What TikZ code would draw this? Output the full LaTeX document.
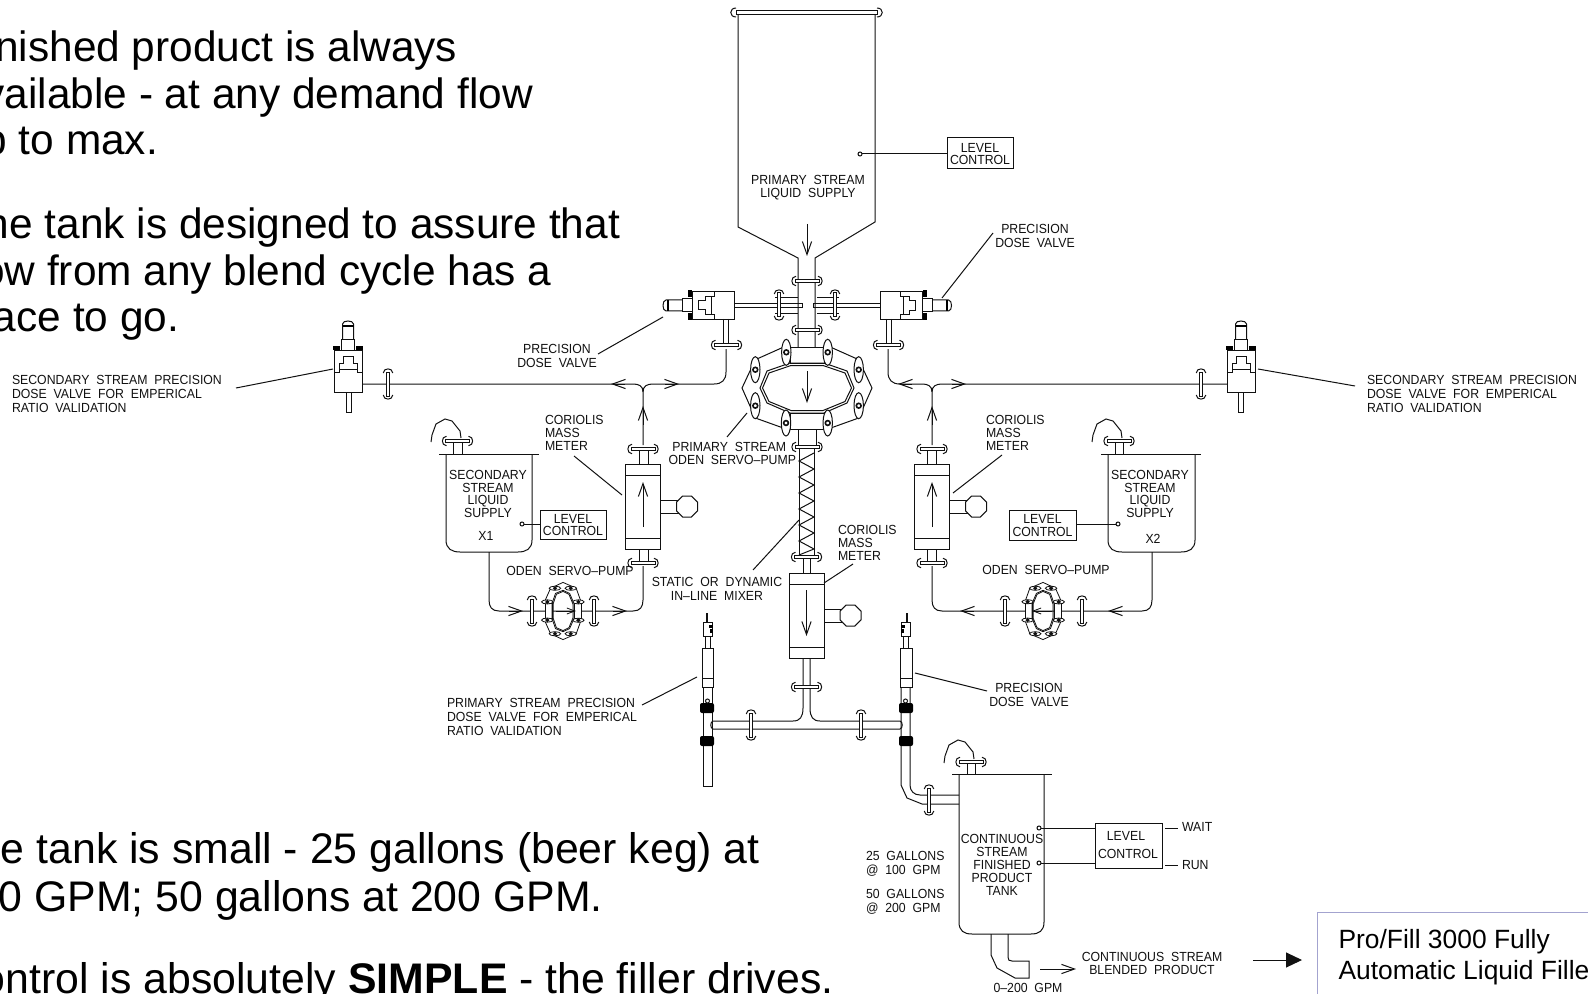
\documentclass[tikz,border=0pt]{standalone}
\usepackage{fontspec}
\setmainfont{Liberation Sans}
\newfontfamily\cad[FakeStretch=0.93]{Liberation Sans}
\usetikzlibrary{arrows.meta}
\definecolor{boxblue}{HTML}{A3A3CF}
\definecolor{ink}{HTML}{111111}
\newcommand\ldr[3]{\coordinate (#1a) at (#2); \coordinate (#1b) at (#3); \draw (#1a) -- (#1b);}
\newcommand\probe[3]{\coordinate (#1) at (#2); \draw (#1) -- (#3); \draw[fill=white] (#1) circle[radius=2];}
\tikzset{
 cadtxt/.style={inner sep=0pt,outer sep=0pt,text=ink,align=center,font=\cad\fontsize{6.6}{6.45}\selectfont},
 cadleft/.style={cadtxt,align=left},
 cadwide/.style={font=\cad\fontsize{6.6}{7.05}\selectfont},
 bigtxt/.style={inner sep=0pt,outer sep=0pt,anchor=base west,font=\fontsize{21.4}{25}\selectfont,text=black},
 bigtop/.style={bigtxt,font=\fontsize{21.2}{25}\selectfont},
 oarrow/.style={-{Straight Barb[length=6.5pt,width=4.6pt,line width=.5pt]}},
 pics/flange/.style={code={
   \draw[fill=white] (-12,-1.8) rectangle (12,1.8);
   \draw (-11,-4.8) .. controls (-16.5,-4.5) and (-16.5,4.5) .. (-11,4.8);
   \draw (11,-4.8) .. controls (16.5,-4.5) and (16.5,4.5) .. (11,4.8);
 }},
 pics/hook/.style={code={
   \draw (3,-3) -- (2,-10) -- (-6,-20) -- (-13,-22) -- (-22,-17) -- (-26,-6) -- (-27,1);
 }},
 pics/valve/.style={code={
   \draw[fill=white] (-14,-21) rectangle (14,21);
   \draw (-14,1.5) -- (-9,1.5) -- (-9,-7.5) -- (-4.5,-7.5) -- (-4.5,-14.3) -- (5,-14.3) -- (5,-7.5) -- (9,-7.5) -- (9,1.5) -- (14,1.5);
   \draw (-9,-1.5) -- (9,-1.5);
   \fill[black] (-15,-25.5) rectangle (-8,-21.5);
   \fill[black] (8,-25.5) rectangle (15,-21.5);
   \draw (-6.5,-21) rectangle (6.5,-31);
   \draw (-5.5,-31) -- (-5.5,-47) .. controls (-5.5,-51) and (5.5,-51) .. (5.5,-47) -- (5.5,-31);
   \fill[black] (-5.5,-46) rectangle (5.5,-44);
 }},
 pics/minivalve/.style={code={
   \draw (0,-35) -- (0,-26);
   \draw (-1,-35) -- (-1,-26);
   \draw[fill=white] (-4,-26) rectangle (5,-12);
   \fill[black] (1,-23) rectangle (5,-20);
   \fill[black] (2,-19) rectangle (5,-15);
   \draw (-2.5,-12) rectangle (2.5,0);
 }},
 pics/meter/.style={code={
   \draw[fill=white] (-17.5,-42.5) rectangle (17.5,42.5);
   \draw (-17.5,-31.5) -- (17.5,-31.5) (-17.5,31.5) -- (17.5,31.5);
   \draw (17.5,-6.5) -- (36,-6.5) (17.5,6.5) -- (36,6.5);
   \draw[fill=white] (54.5,-4.4) -- (54.5,4.4) -- (48.4,10.5) -- (39.6,10.5) -- (33.5,4.4) -- (33.5,-4.4) -- (39.6,-10.5) -- (48.4,-10.5) -- cycle;
 }},
 pics/pump/.style={code={
   \draw (-17,-41) -- (-21.7,-41.7) -- (-51.7,-28.3) -- (-65,0) -- (-51.7,30) -- (-21,41) -- (-17,41);
   \draw (17,-41) -- (21.7,-41.7) -- (51.7,-28.3) -- (65,0) -- (51.7,30) -- (21,41) -- (17,41);
   \draw[fill=white] (-17,-41) rectangle (17,-25);
   \draw[fill=white] (-17,25) rectangle (17,41);
   \draw (-17,-25) -- (17,-25) -- (40,-17) -- (47,0) -- (40,15) -- (17,25) -- (-17,25) -- (-40,15) -- (-47,0) -- (-40,-17) -- cycle;
   \draw (-16,-22.5) -- (16,-22.5) -- (38,-15) -- (44.5,0) -- (38,13.5) -- (16,22.5) -- (-16,22.5) -- (-38,13.5) -- (-44.5,0) -- (-38,-15) -- cycle;
   \foreach \bx/\by in {-20.7/-35.7,20.7/-35.7,-51.7/-18.3,51.7/-18.3,-51.7/17.7,51.7/17.7,-21/35,20.7/35}{
     \draw[fill=white] (\bx,\by) circle[x radius=4.7,y radius=13];
     \draw[line width=.8pt,fill=white] (\bx,\by) circle[radius=2.4];
   }
 }},
}
\begin{document}
\begin{tikzpicture}[x=0.5pt,y=-0.5pt,line width=.5pt,draw=ink]
\useasboundingbox (0,0) rectangle (1588,994);
\fill[white] (0,0) rectangle (1588,994);
\begin{scope}
\clip (0,0) rectangle (1588,994);

% ---- explanatory text
\node[bigtop] (t1) at (-40,62) {Finished product is always};
\node[bigtop] (t2) at (-40,108.5) {available - at any demand flow};
\node[bigtop] (t3) at (-40,155) {up to max.};
\node[bigtop] (t4) at (-40,238.5) {The tank is designed to assure that};
\node[bigtop] (t5) at (-40,285.5) {flow from any blend cycle has a};
\node[bigtop] (t6) at (-40,332) {place to go.};
\node[bigtxt] (t7) at (-49,863) {The tank is small - 25 gallons (beer keg) at};
\node[bigtxt] (t8) at (-49,911) {100 GPM; 50 gallons at 200 GPM.};
\node[bigtxt] (t9) at (-49,993) {Control is absolutely \textbf{SIMPLE} - the filler drives.};

% ---- primary supply tank
\draw (738,15) -- (738,227) -- (798,258) -- (798,347);
\draw (875,15) -- (875,222) -- (815,258) -- (815,347);
\draw[fill=white] (736,10.5) rectangle (877,15);
\draw (736,8) .. controls (729,8) and (729,17) .. (736,17);
\draw (877,8) .. controls (884,8) and (884,17) .. (877,17);
\draw[oarrow] (807,224) -- (807,256);
\probe{ptop}{860,154}{947,154}
\node[draw,minimum width=33pt,minimum height=15.5pt,inner sep=0pt] (lc1) at (980,153.5) {};
\node[cadtxt] (lc1t) at (980,154) {LEVEL\\CONTROL};
\node[cadtxt] (psup) at (808,187.5) {PRIMARY~~STREAM\\LIQUID~~SUPPLY};
\pic at (807,281) {flange};
\pic at (807,330) {flange};

% ---- horizontal primary dose valves
\draw (733,303.3) -- (802,303.3) -- (802,307.3) -- (733,307.3);
\draw (881,303.3) -- (813,303.3) -- (813,307.3) -- (881,307.3);
\draw (775,297.7) -- (798,297.7) (775,313.3) -- (798,313.3);
\draw (817,297.7) -- (839,297.7) (817,313.3) -- (839,313.3);
\pic[rotate=-90] at (779,305) {flange};
\pic[rotate=-90] at (835,305) {flange};
\pic[rotate=90] at (713,305.5) {valve};
\pic[rotate=-90] at (901.5,305.5) {valve};
\draw (723,319) -- (723,345) (728,319) -- (728,345);
\draw (886,319) -- (886,345) (891,319) -- (891,345);
\pic at (726.5,345) {flange};
\pic at (888.5,345) {flange};

% ---- pipe runs to the secondary valves
\draw (726,349) -- (726,372) .. controls (726,380) and (722,384) .. (714,384) -- (653,384)
      .. controls (647,384) and (643,386) .. (643,392) -- (643,445);
\draw (643,392) .. controls (643,386) and (639,384) .. (633,384) -- (362,384);
\draw[oarrow] (665,384) -- (679,384);
\draw[oarrow] (625,384) -- (611,384);
\draw[oarrow] (643,425) -- (643,406);
\draw (888,349) -- (888,372) .. controls (888,380) and (892,384) .. (900,384) -- (922,384)
      .. controls (928,384) and (932,386) .. (932,392) -- (932,445);
\draw (932,392) .. controls (932,386) and (936,384) .. (942,384) -- (1227,384);
\draw[oarrow] (912,384) -- (898,384);
\draw[oarrow] (952,384) -- (966,384);
\draw[oarrow] (932,425) -- (932,406);

\draw (346,392) rectangle (351,412);
\pic at (348,371) {valve};
\pic[rotate=90] at (388,384) {flange};
\draw (1238.5,392) rectangle (1243.5,412);
\pic at (1241,371) {valve};
\pic[rotate=90] at (1201,384) {flange};

% ---- primary pump
\pic at (807,388) {pump};
\draw[oarrow] (807,371) -- (807,403);

% ---- mixer
\draw (798,429) -- (798,447) (816,429) -- (816,447);
\draw (799,447) rectangle (814,556);
\draw (814,453) -- (799,461) -- (814,469) -- (799,477) -- (814,485) -- (799,493) -- (814,501) -- (799,509) -- (814,517) -- (799,525) -- (814,533) -- (799,541) -- (814,549) -- (799,555);
\pic at (807,447) {flange};
\draw (803,557) -- (803,573) (810,557) -- (810,573);
\pic at (806.5,557) {flange};

% ---- meters
\draw (639,449) -- (639,464) (648,449) -- (648,464) (639,549) -- (639,563) (648,549) -- (648,563);
\pic at (643,506.5) {meter};
\pic at (643,449) {flange};
\pic at (643,563) {flange};
\draw[oarrow] (643,527) -- (643,482);
\draw (927.5,449) -- (927.5,464) (936.5,449) -- (936.5,464) (927.5,549) -- (927.5,563) (936.5,549) -- (936.5,563);
\pic at (932,506.5) {meter};
\pic at (932,449) {flange};
\pic at (932,563) {flange};
\draw[oarrow] (932,527) -- (932,482);
\pic at (806.5,615.5) {meter};
\draw[oarrow] (806.5,590) -- (806.5,636);

% ---- secondary tanks
\draw (446,454) -- (446,540) .. controls (446,549) and (452,552) .. (460,552) -- (518,552) .. controls (526,552) and (532,549) .. (532,540) -- (532,454);
\draw (439,454) -- (539,454);
\draw (453,441) -- (453,454) (462,441) -- (462,454);
\pic at (457.5,441) {flange};
\pic at (458,441) {hook};
\probe{pl}{522,524}{540,524}
\node[draw,minimum width=33pt,minimum height=14.5pt,inner sep=0pt] (lc2) at (573,524.5) {};
\node[cadtxt] (lc2t) at (573,525) {LEVEL\\CONTROL};
\node[cadtxt] (sl) at (488,494) {SECONDARY\\STREAM\\LIQUID\\SUPPLY};
\node[cadtxt] (x1) at (486,536) {X1};

\draw (1108,454) -- (1108,540) .. controls (1108,549) and (1114,552) .. (1122,552) -- (1181,552) .. controls (1189,552) and (1195,549) .. (1195,540) -- (1195,454);
\draw (1101,454) -- (1201,454);
\draw (1115,441) -- (1115,454) (1123,441) -- (1123,454);
\pic at (1119,441) {flange};
\pic at (1119,441) {hook};
\probe{pr}{1118,524}{1076,524}
\node[draw,minimum width=33.5pt,minimum height=15pt,inner sep=0pt] (lc3) at (1042.5,525) {};
\node[cadtxt] (lc3t) at (1042.5,525.5) {LEVEL\\CONTROL};
\node[cadtxt] (sr) at (1150,494) {SECONDARY\\STREAM\\LIQUID\\SUPPLY};
\node[cadtxt] (x2) at (1153,539) {X2};

% ---- secondary pump loops
\draw (489,552) -- (489,600) .. controls (489,607) and (492,611) .. (499,611) -- (633,611) .. controls (640,611) and (643,607) .. (643,600) -- (643,566);
\pic[rotate=90,scale=.44,line width=.4pt] at (563,611) {pump};
\pic[rotate=90] at (532,611) {flange};
\pic[rotate=90] at (594,611) {flange};
\draw[oarrow] (509,611) -- (523,611);
\draw[oarrow] (613,611) -- (627,611);
\draw[-{Straight Barb[length=4pt,width=3pt,line width=.4pt]},line width=.4pt] (556,611) -- (576,611);
\draw (1152,552) -- (1152,600) .. controls (1152,607) and (1149,611) .. (1142,611) -- (942,611) .. controls (935,611) and (932,607) .. (932,600) -- (932,566);
\pic[rotate=-90,scale=.44,line width=.4pt] at (1043,611) {pump};
\pic[rotate=90] at (1005,611) {flange};
\pic[rotate=90] at (1082,611) {flange};
\draw[oarrow] (1122,611) -- (1108,611);
\draw[oarrow] (974,611) -- (960,611);
\draw[-{Straight Barb[length=4pt,width=3pt,line width=.4pt]},line width=.4pt] (1052,611) -- (1032,611);

% ---- tee under the centre meter
\draw (803,658) -- (803,708) .. controls (803,717) and (800,721) .. (793,721) -- (713,721)
      .. controls (710,722) and (710,728) .. (713,729) -- (900,729)
      .. controls (903,728) and (903,722) .. (900,721) -- (820,721)
      .. controls (813,721) and (810,717) .. (810,708) -- (810,658);
\pic at (806.5,687) {flange};
\pic[rotate=90] at (751,725) {flange};
\pic[rotate=90] at (861,725) {flange};

% ---- vertical dose valves
\draw (703,687) -- (703,786) -- (712,786) -- (712,687);
\draw[fill=white] (702,648) rectangle (713,687);
\draw (702,678) -- (713,678);
\pic at (707.5,648) {minivalve};
\fill[black,rounded corners=1pt] (700,703) rectangle (714,713);
\fill[black,rounded corners=1pt] (700,736) rectangle (714,746);
\draw[fill=white] (707.5,701) circle[radius=2];

\draw (901,687) -- (901,785) -- (907,798) -- (922,804) -- (959,804);
\draw (910,687) -- (910,785) .. controls (910,791) and (914,795) .. (920,795) -- (959,795);
\draw[fill=white] (900,648) rectangle (912,687);
\draw (900,678) -- (912,678);
\pic[xscale=-1] at (906,648) {minivalve};
\fill[black,rounded corners=1pt] (899,703) rectangle (913,713);
\fill[black,rounded corners=1pt] (899,736) rectangle (913,746);
\draw[fill=white] (905.5,701) circle[radius=2];
\pic[rotate=90] at (929,800) {flange};

% ---- finished product tank
\draw (959,774) -- (959,922) .. controls (959,931) and (964,934) .. (972,934) -- (1031,934) .. controls (1039,934) and (1044,931) .. (1044,922) -- (1044,774);
\draw (952,774) -- (1052,774);
\draw (967,762) -- (967,774) (975,762) -- (975,774);
\pic at (971,762) {flange};
\pic at (971,762) {hook};
\probe{pw}{1039,828}{1095,828}
\probe{pg}{1039,863}{1095,863}
\node[draw,minimum width=33.5pt,minimum height=22.5pt,inner sep=0pt] (lc4) at (1128.5,845.5) {};
\node[cadtxt] (lc4a) at (1126,836) {LEVEL};
\node[cadtxt] (lc4b) at (1128,854) {CONTROL};
\coordinate (wa) at (1165,828); \coordinate (wb) at (1178,828);
\draw (wa) -- (wb);
\coordinate (ra) at (1165,865); \coordinate (rb) at (1178,865);
\draw (ra) -- (rb);
\node[cadtxt,anchor=west] (wait) at (1182,827) {WAIT};
\node[cadtxt,anchor=west] (run) at (1182,865) {RUN};
\node[cadtxt] (ft) at (1002,865) {CONTINUOUS\\STREAM\\FINISHED\\PRODUCT\\TANK};
\draw (991,934) -- (991,955) -- (997,968) -- (1015,978) -- (1029,978) -- (1029,961) -- (1012,961) .. controls (1009,961) and (1008,960) .. (1008,957) -- (1008,934);
\draw[oarrow] (1040,969) -- (1076,969);
\node[cadtxt] (cs) at (1152,963) {CONTINUOUS~~STREAM\\BLENDED~~PRODUCT};
\node[cadtxt] (gpm) at (1028,988) {0–200~~GPM};
\node[cadleft,cadwide,anchor=west] (g25) at (866,864) {25~~GALLONS\\@~~100~~GPM};
\node[cadleft,cadwide,anchor=west] (g50) at (866,902) {50~~GALLONS\\@~~200~~GPM};

% ---- labels and their leaders
\node[cadtxt,cadwide] (pdr) at (1035,236) {PRECISION\\DOSE~~VALVE};
\ldr{la}{942,298}{993,233}
\node[cadtxt,cadwide] (pdl) at (557,356) {PRECISION\\DOSE~~VALVE};
\ldr{lb}{663,317}{598,354}
\node[cadleft,cadwide,anchor=west] (ssl) at (12,394) {SECONDARY~~STREAM~~PRECISION\\DOSE~~VALVE~~FOR~~EMPERICAL\\RATIO~~VALIDATION};
\ldr{lc}{236,388}{333,369}
\node[cadleft,cadwide,anchor=west] (ssr) at (1367,394) {SECONDARY~~STREAM~~PRECISION\\DOSE~~VALVE~~FOR~~EMPERICAL\\RATIO~~VALIDATION};
\ldr{ld}{1258,369}{1355,386}
\node[cadleft,anchor=west] (cml) at (545,433) {CORIOLIS\\MASS\\METER};
\ldr{le}{574,456}{622,495}
\node[cadleft,anchor=west] (cmr) at (986,433) {CORIOLIS\\MASS\\METER};
\ldr{lf}{1002,455}{953,493}
\node[cadleft,anchor=west] (cmc) at (838,543) {CORIOLIS\\MASS\\METER};
\ldr{lg}{853,564}{824,583}
\node[cadtxt,anchor=east] (ps1) at (786,447) {PRIMARY~~STREAM};
\node[cadtxt,anchor=east] (ps2) at (796,460) {ODEN~~SERVO–PUMP};
\ldr{lh}{727,437}{747,413}
\node[cadtxt] (osl) at (570,571) {ODEN~~SERVO–PUMP};
\node[cadtxt] (osr) at (1046,570) {ODEN~~SERVO–PUMP};
\node[cadtxt,cadwide] (mix) at (717,589) {STATIC~~OR~~DYNAMIC\\IN–LINE~~MIXER};
\ldr{li}{753,570}{799,520}
\node[cadleft,cadwide,anchor=west] (pspd) at (447,717) {PRIMARY~~STREAM~~PRECISION\\DOSE~~VALVE~~FOR~~EMPERICAL\\RATIO~~VALIDATION};
\ldr{lj}{642,705}{697,677}
\node[cadtxt,cadwide] (pdb) at (1029,695) {PRECISION\\DOSE~~VALVE};
\ldr{lk}{915,673}{987,691}

% ---- filler box
\coordinate (fa) at (1253,960);
\node[draw=boxblue,line width=.6pt,minimum width=320pt,minimum height=60pt,anchor=north west,inner sep=0pt] (fill) at (1317,912) {};
\coordinate (fb) at (1302,960);
\draw[-{Triangle[length=8pt,width=7.5pt]}] (fa) -- (fb);
\node[inner sep=0pt,anchor=base west,font=\fontsize{13.2}{15}\selectfont,text=black] (f1) at (1338,948) {Pro/Fill 3000 Fully};
\node[inner sep=0pt,anchor=base west,font=\fontsize{13.2}{15}\selectfont,text=black] (f2) at (1338,979) {Automatic Liquid Filler};
\end{scope}
\end{tikzpicture}
\end{document}
